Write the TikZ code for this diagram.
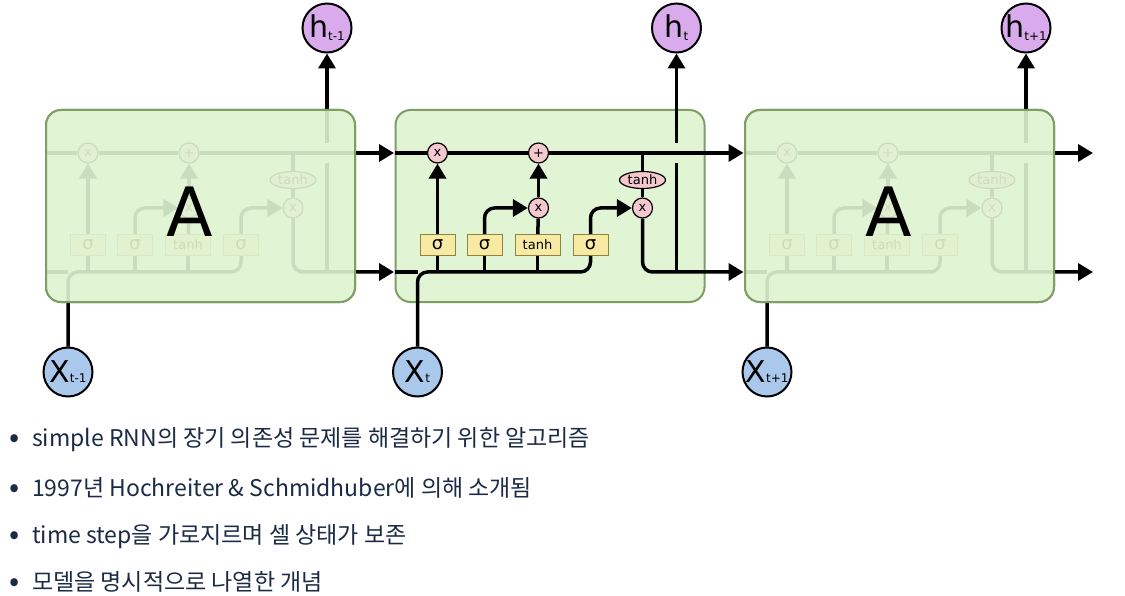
\documentclass[tikz,border=0pt]{standalone}
\usepackage{fontspec}
\setmainfont{DejaVu Sans}
\newfontfamily\krfont{Noto Sans CJK KR}
\usetikzlibrary{arrows.meta,positioning,shapes.geometric,calc}
\definecolor{cellfill}{HTML}{E1F4D3}
\definecolor{celldraw}{HTML}{7E9E66}
\definecolor{gatefill}{HTML}{F8E9A3}
\definecolor{gatedraw}{HTML}{8C8445}
\definecolor{opfill}{HTML}{F5C8D0}
\definecolor{hfill}{HTML}{D9AAEC}
\definecolor{xfill}{HTML}{A9C8EB}
\definecolor{bodytext}{HTML}{1C2B45}

\tikzset{
  cellbox/.style={draw=celldraw, fill=cellfill, line width=2pt, rounded corners=15pt,
    minimum width=309pt, minimum height=192pt, inner sep=0pt, outer sep=0pt},
  gate/.style={draw=gatedraw, fill=gatefill, line width=1pt, minimum height=21pt,
    inner sep=0pt, font=\fontsize{18}{18}\selectfont},
  op/.style={circle, draw, fill=opfill, line width=1.2pt, minimum size=20pt,
    inner sep=0pt, font=\fontsize{13}{13}\selectfont},
  opact/.style={ellipse, draw, fill=opfill, line width=1.2pt, minimum width=46pt,
    minimum height=17pt, inner sep=0pt, font=\fontsize{13}{13}\selectfont},
  state/.style={circle, draw, line width=2pt, minimum size=49pt, inner sep=0pt},
  flow/.style={line width=3.5pt, rounded corners=10pt},
  item/.style={anchor=base west, text=bodytext, inner sep=0pt,
    font=\krfont\fontsize{23}{23}\selectfont},
  >={Triangle[length=15pt,width=17pt]}
}
\newcommand{\dotmark}{\makebox[23pt][l]{\fontsize{30}{23}\selectfont\raisebox{-1pt}{•}}}

\begin{document}
\begin{tikzpicture}[x=1pt, y=-1pt]
  \useasboundingbox[fill=white] (0,0) rectangle (1125,596);

  % one LSTM cell per time step, outer ones greyed out under the box
  \foreach \i/\x/\sub in {0/46/t-1, 1/395.5/t, 2/745/t+1} {
    \node[cellbox] (cell\i) at (\x+154.5,206) {};

    % gates
    \node[gate, minimum width=35pt] (sigf\i) at (\x+42,245) {σ};
    \node[gate, minimum width=35pt] (sigi\i) at (\x+89,245) {σ};
    \node[gate, minimum width=45pt, font=\fontsize{13}{13}\selectfont] (cand\i) at (\x+142,245) {tanh};
    \node[gate, minimum width=35pt] (sigo\i) at (\x+195,245) {σ};

    % pointwise ops
    \node[op] (fx\i) at (\x+42,153) {x};
    \node[op] (add\i) at (\x+143,153) {+};
    \node[op] (ix\i) at (\x+143,208) {x};
    \node[opact] (act\i) at (\x+247,180) {tanh};
    \node[op] (ox\i) at (\x+247,208) {x};

    % inputs and outputs
    \node[state, fill=xfill] (x\i) at (\x+22,372)
      {\fontsize{30}{30}\selectfont X\fontsize{12}{12}\selectfont\sub};
    \node[state, fill=hfill] (h\i) at (\x+281,28)
      {\fontsize{30}{30}\selectfont h\raisebox{-3pt}{\fontsize{12}{12}\selectfont\sub}};

    \coordinate (top\i) at (\x-1,153);
    \coordinate (topend\i) at (\x+348,153);
    \coordinate (tap\i) at (\x+247,153);
    \coordinate (in\i) at (\x-1,272);
    \coordinate (low\i) at (\x+22,272);
    \coordinate (lowend\i) at (\x+195,272);
    \coordinate (lowout\i) at (\x+348,272);
    \coordinate (hfoot\i) at (\x+281,272);
    \coordinate (gaplo\i) at (\x+281,163);
    \coordinate (gaphi\i) at (\x+281,143);

    % cell state
    \draw[flow] (top\i) -- (fx\i);
    \draw[flow] (fx\i) -- (add\i);
    \draw[flow, ->] (add\i) -- (topend\i);

    % hidden state and input
    \draw[flow] (in\i) -- (low\i);
    \draw[flow] (x\i.north) -- (low\i) -- (lowend\i) -- (sigo\i.south);
    \draw[flow] (sigf\i.south) -- (sigf\i.south |- low\i);
    \draw[flow] (sigi\i.south) -- (sigi\i.south |- low\i);
    \draw[flow] (cand\i.south) -- (cand\i.south |- low\i);

    \draw[flow, ->] (sigf\i) -- (fx\i);
    \draw[flow, ->] (sigi\i.north) |- (ix\i.west);
    \draw[flow] (cand\i) -- (ix\i);
    \draw[flow, ->] (ix\i) -- (add\i);
    \draw[flow, ->] (sigo\i.north) |- (ox\i.west);
    \draw[flow] (tap\i) -- (act\i);
    \draw[flow] (act\i) -- (ox\i);
    \draw[flow, ->] (ox\i.south) |- (lowout\i);

    \draw[flow] (hfoot\i) -- (gaplo\i);
    \draw[flow, ->] (gaphi\i) -- (h\i);

    \ifnum\i=1 \else
      \draw[draw=celldraw, fill=cellfill, fill opacity=0.9, line width=2pt, rounded corners=15pt]
        (cell\i.south west) rectangle (cell\i.north east);
      \node[font=\fontsize{68}{68}\selectfont] (name\i) at (\x+144,212) {A};
    \fi
  }

  % notes
  \node[item] (note1) at (9,446) {\dotmark simple RNN의 장기 의존성 문제를 해결하기 위한 알고리즘};
  \node[item] (note2) at (9,496) {\dotmark 1997년 Hochreiter \& Schmidhuber에 의해 소개됨};
  \node[item] (note3) at (9,543) {\dotmark time step을 가로지르며 셀 상태가 보존};
  \node[item] (note4) at (9,590) {\dotmark 모델을 명시적으로 나열한 개념};
\end{tikzpicture}
\end{document}
